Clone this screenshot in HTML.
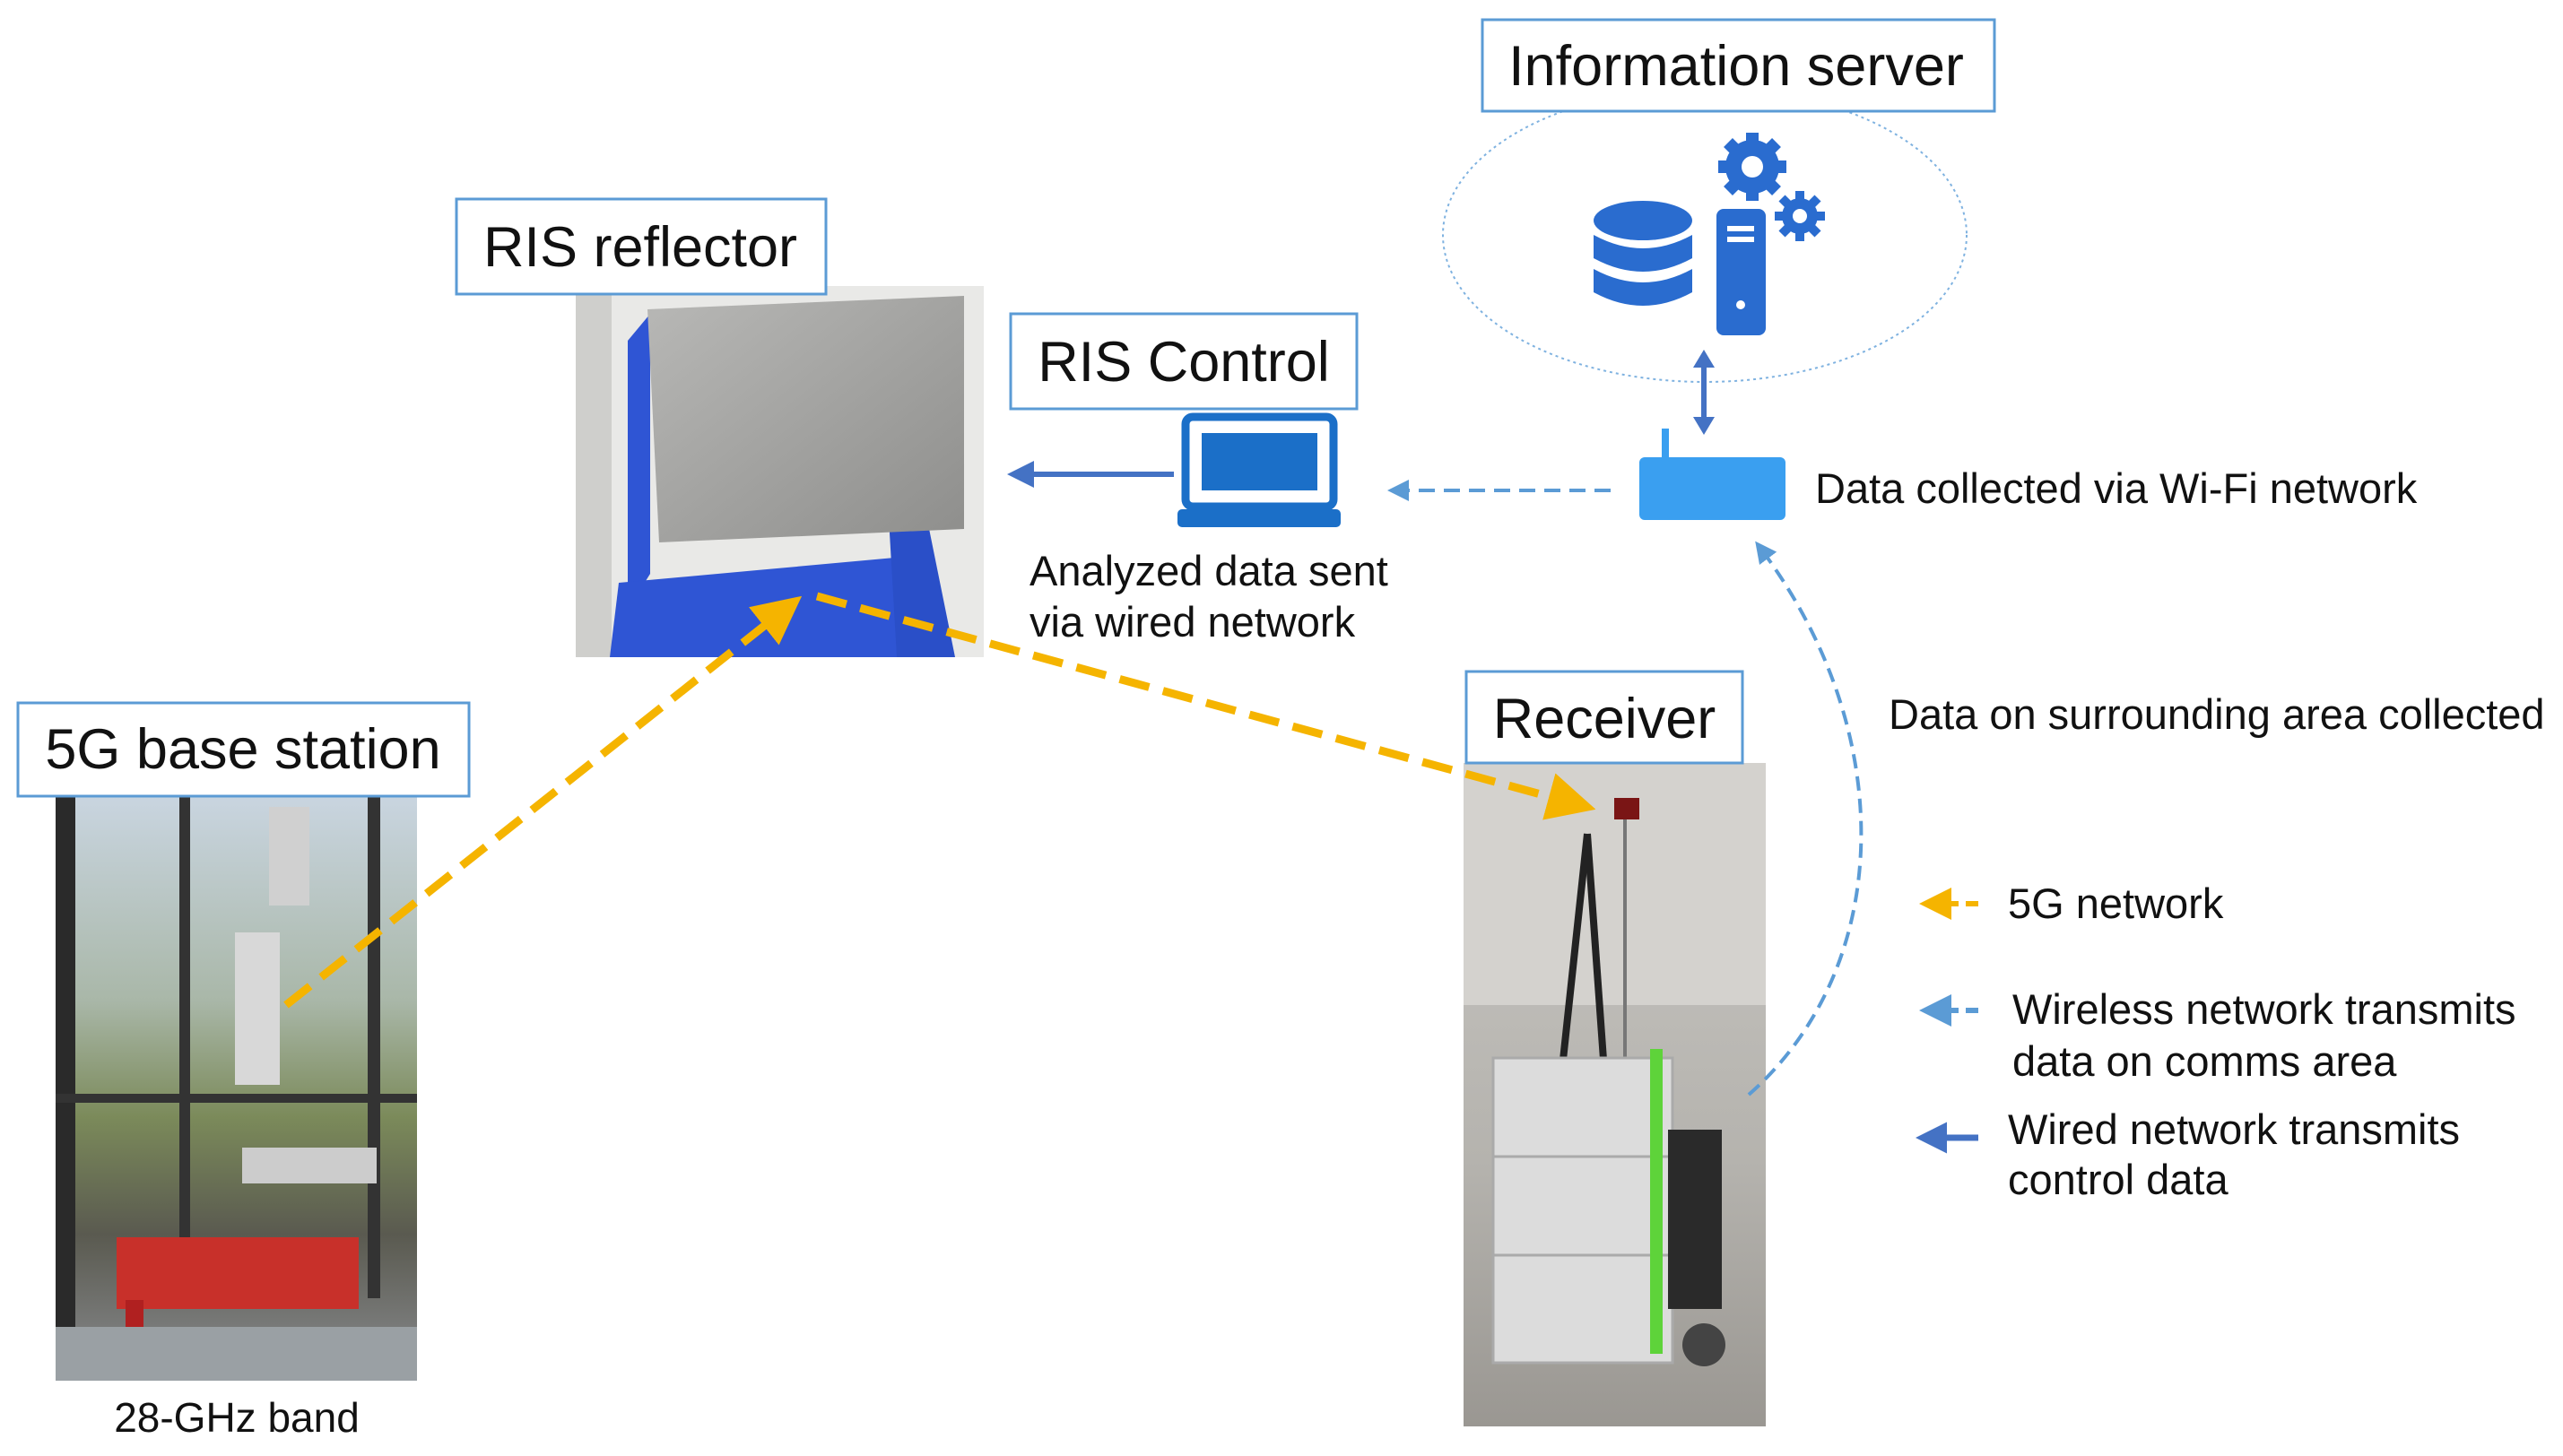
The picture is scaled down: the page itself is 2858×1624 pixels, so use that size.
<!DOCTYPE html>
<html><head><meta charset="utf-8"><style>
html,body{margin:0;padding:0;background:#fff;}
svg{display:block;font-family:"Liberation Sans",Arial,sans-serif;}
</style></head><body>
<svg width="2858" height="1624" viewBox="0 0 2858 1624" xmlns="http://www.w3.org/2000/svg">
<defs>
<marker id="ay" markerWidth="6" markerHeight="6" refX="4" refY="3" orient="auto" markerUnits="strokeWidth"><path d="M0,0 L6,3 L0,6 z" fill="#f5b400"/></marker>
<marker id="ab" markerWidth="6" markerHeight="6" refX="4" refY="3" orient="auto" markerUnits="strokeWidth"><path d="M0,0 L6,3 L0,6 z" fill="#5b9bd5"/></marker>
<marker id="aw" markerWidth="5" markerHeight="5" refX="3" refY="2.5" orient="auto" markerUnits="strokeWidth"><path d="M0,0 L5,2.5 L0,5 z" fill="#4472c4"/></marker>
<linearGradient id="ris" x1="0" y1="0" x2="1" y2="1"><stop offset="0" stop-color="#b8b8b6"/><stop offset="1" stop-color="#8e8e8c"/></linearGradient>
<linearGradient id="bs" x1="0" y1="0" x2="0" y2="1"><stop offset="0" stop-color="#c9d5e0"/><stop offset="0.35" stop-color="#a9b7a8"/><stop offset="0.55" stop-color="#7b8a5a"/><stop offset="0.75" stop-color="#5a5a50"/><stop offset="1" stop-color="#8a8c90"/></linearGradient>
<linearGradient id="rx" x1="0" y1="0" x2="0" y2="1"><stop offset="0" stop-color="#c8c6c2"/><stop offset="0.6" stop-color="#b5b3ae"/><stop offset="1" stop-color="#9a9792"/></linearGradient>
</defs>

<!-- Information server -->
<ellipse cx="1901" cy="262" rx="292" ry="164" fill="none" stroke="#7fb2e0" stroke-width="2" stroke-dasharray="3,4"/>
<rect x="1653" y="22" width="571" height="102" fill="#fff" stroke="#5b9bd5" stroke-width="3"/>
<text x="1936" y="95" font-size="63" text-anchor="middle" fill="#111">Information server</text>
<g fill="#2a6ccf">
<ellipse cx="1832" cy="246" rx="55" ry="22"/>
<path d="M1777,262 q55,30 110,0 v26 q-55,30 -110,0z"/>
<path d="M1777,300 q55,30 110,0 v26 q-55,30 -110,0z"/>
</g>
<rect x="1914" y="233" width="55" height="141" rx="8" fill="#2a6ccf"/>
<rect x="1926" y="252" width="30" height="6" fill="#fff"/>
<rect x="1926" y="264" width="30" height="6" fill="#fff"/>
<circle cx="1941" cy="340" r="5" fill="#fff"/>
<g fill="#2a6ccf">
<circle cx="1954" cy="186" r="30"/>
<g stroke="#2a6ccf" stroke-width="14">
<line x1="1954" y1="148" x2="1954" y2="224"/><line x1="1916" y1="186" x2="1992" y2="186"/>
<line x1="1927" y1="159" x2="1981" y2="213"/><line x1="1981" y1="159" x2="1927" y2="213"/>
</g>
<circle cx="2007" cy="241" r="20"/>
<g stroke="#2a6ccf" stroke-width="10">
<line x1="2007" y1="213" x2="2007" y2="269"/><line x1="1979" y1="241" x2="2035" y2="241"/>
<line x1="1987" y1="221" x2="2027" y2="261"/><line x1="2027" y1="221" x2="1987" y2="261"/>
</g>
</g>
<circle cx="1954" cy="186" r="12" fill="#fff"/>
<circle cx="2007" cy="241" r="8" fill="#fff"/>
<line x1="1900" y1="405" x2="1900" y2="470" stroke="#4472c4" stroke-width="6"/>
<path d="M1888,410 L1900,390 L1912,410z M1888,465 L1900,485 L1912,465z" fill="#4472c4"/>
<rect x="1853" y="478" width="8" height="36" fill="#3a9ff0"/>
<rect x="1828" y="510" width="163" height="70" rx="6" fill="#3a9ff0"/>
<text x="2024" y="561" font-size="47" fill="#111">Data collected via Wi-Fi network</text>
<line x1="1796" y1="547" x2="1555" y2="547" stroke="#5b9bd5" stroke-width="4" stroke-dasharray="18,10" marker-end="url(#ab)"/>

<!-- RIS Control -->
<rect x="1127" y="350" width="386" height="106" fill="#fff" stroke="#5b9bd5" stroke-width="3"/>
<text x="1320" y="425" font-size="63" text-anchor="middle" fill="#111">RIS Control</text>
<rect x="1322" y="465" width="165" height="100" rx="8" fill="#fff" stroke="#1b6fc8" stroke-width="9"/>
<rect x="1340" y="483" width="129" height="64" fill="#1b6fc8"/>
<rect x="1313" y="568" width="182" height="20" rx="5" fill="#1b6fc8"/>
<line x1="1309" y1="529" x2="1135" y2="529" stroke="#4472c4" stroke-width="6" marker-end="url(#aw)"/>
<text x="1148" y="653" font-size="47" fill="#111">Analyzed data sent</text>
<text x="1148" y="710" font-size="47" fill="#111">via wired network</text>

<!-- RIS reflector -->
<rect x="642" y="319" width="455" height="414" fill="#e9e9e7"/>
<rect x="642" y="319" width="40" height="414" fill="#cfcfcc"/>
<polygon points="700,380 725,350 725,640 700,680" fill="#2f55d4"/>
<polygon points="690,650 1020,620 1060,733 680,733" fill="#2f55d4"/>
<polygon points="990,560 1030,560 1065,733 1000,733" fill="#2a4fc8"/>
<polygon points="722,345 1075,330 1075,590 735,605" fill="url(#ris)"/>
<rect x="509" y="222" width="412" height="106" fill="#fff" stroke="#5b9bd5" stroke-width="3"/>
<text x="714" y="297" font-size="63" text-anchor="middle" fill="#111">RIS reflector</text>

<!-- 5G base station -->
<rect x="62" y="888" width="403" height="652" fill="url(#bs)"/>
<rect x="62" y="888" width="22" height="652" fill="#2a2a2a"/>
<rect x="200" y="888" width="12" height="560" fill="#333"/>
<rect x="410" y="888" width="14" height="560" fill="#333"/>
<rect x="62" y="1220" width="403" height="10" fill="#333"/>
<rect x="262" y="1040" width="50" height="170" fill="#d8d8d8"/>
<rect x="300" y="900" width="45" height="110" fill="#d0d0d0"/>
<rect x="270" y="1280" width="150" height="40" fill="#ccc"/>
<rect x="130" y="1380" width="270" height="80" fill="#c8302a"/>
<rect x="140" y="1450" width="20" height="40" fill="#b02020"/>
<rect x="62" y="1480" width="403" height="60" fill="#9aa0a4"/>
<rect x="20" y="784" width="503" height="104" fill="#fff" stroke="#5b9bd5" stroke-width="3"/>
<text x="271" y="857" font-size="63" text-anchor="middle" fill="#111">5G base station</text>
<text x="264" y="1597" font-size="46" text-anchor="middle" fill="#111">28-GHz band</text>

<!-- Receiver -->
<rect x="1632" y="851" width="337" height="740" fill="url(#rx)"/>
<rect x="1632" y="851" width="337" height="270" fill="#d4d2ce"/>
<line x1="1770" y1="930" x2="1740" y2="1210" stroke="#222" stroke-width="8"/>
<line x1="1770" y1="930" x2="1790" y2="1210" stroke="#222" stroke-width="8"/>
<rect x="1800" y="890" width="28" height="24" fill="#7a1515"/>
<line x1="1812" y1="914" x2="1812" y2="1200" stroke="#777" stroke-width="4"/>
<rect x="1665" y="1180" width="200" height="340" fill="#dcdcdc" stroke="#aaa" stroke-width="3"/>
<line x1="1665" y1="1290" x2="1865" y2="1290" stroke="#aaa" stroke-width="3"/>
<line x1="1665" y1="1400" x2="1865" y2="1400" stroke="#aaa" stroke-width="3"/>
<rect x="1840" y="1170" width="14" height="340" fill="#5ed33a"/>
<rect x="1860" y="1260" width="60" height="200" fill="#2a2a2a"/>
<circle cx="1900" cy="1500" r="24" fill="#444"/>
<rect x="1635" y="749" width="308" height="102" fill="#fff" stroke="#5b9bd5" stroke-width="3"/>
<text x="1789" y="823" font-size="63" text-anchor="middle" fill="#111">Receiver</text>

<line x1="319" y1="1121" x2="880" y2="676" stroke="#f5b400" stroke-width="9" stroke-dasharray="34,16" marker-end="url(#ay)"/>
<line x1="911" y1="665" x2="1762" y2="898" stroke="#f5b400" stroke-width="9" stroke-dasharray="34,16" marker-end="url(#ay)"/>

<path d="M1950,1221 C2110,1080 2120,820 1962,610" fill="none" stroke="#5b9bd5" stroke-width="4" stroke-dasharray="16,9" marker-end="url(#ab)"/>
<text x="2106" y="813" font-size="47" fill="#111">Data on surrounding area collected</text>

<line x1="2206" y1="1008" x2="2152" y2="1008" stroke="#f5b400" stroke-width="6" stroke-dasharray="14,8" marker-end="url(#ay)"/>
<text x="2239" y="1024" font-size="47" fill="#111">5G network</text>
<line x1="2206" y1="1127" x2="2152" y2="1127" stroke="#5b9bd5" stroke-width="6" stroke-dasharray="14,8" marker-end="url(#ab)"/>
<text x="2244" y="1142" font-size="47" fill="#111">Wireless network transmits</text>
<text x="2244" y="1200" font-size="47" fill="#111">data on comms area</text>
<line x1="2206" y1="1269" x2="2150" y2="1269" stroke="#4472c4" stroke-width="7" marker-end="url(#aw)"/>
<text x="2239" y="1276" font-size="47" fill="#111">Wired network transmits</text>
<text x="2239" y="1332" font-size="47" fill="#111">control data</text>
</svg>
</body></html>
